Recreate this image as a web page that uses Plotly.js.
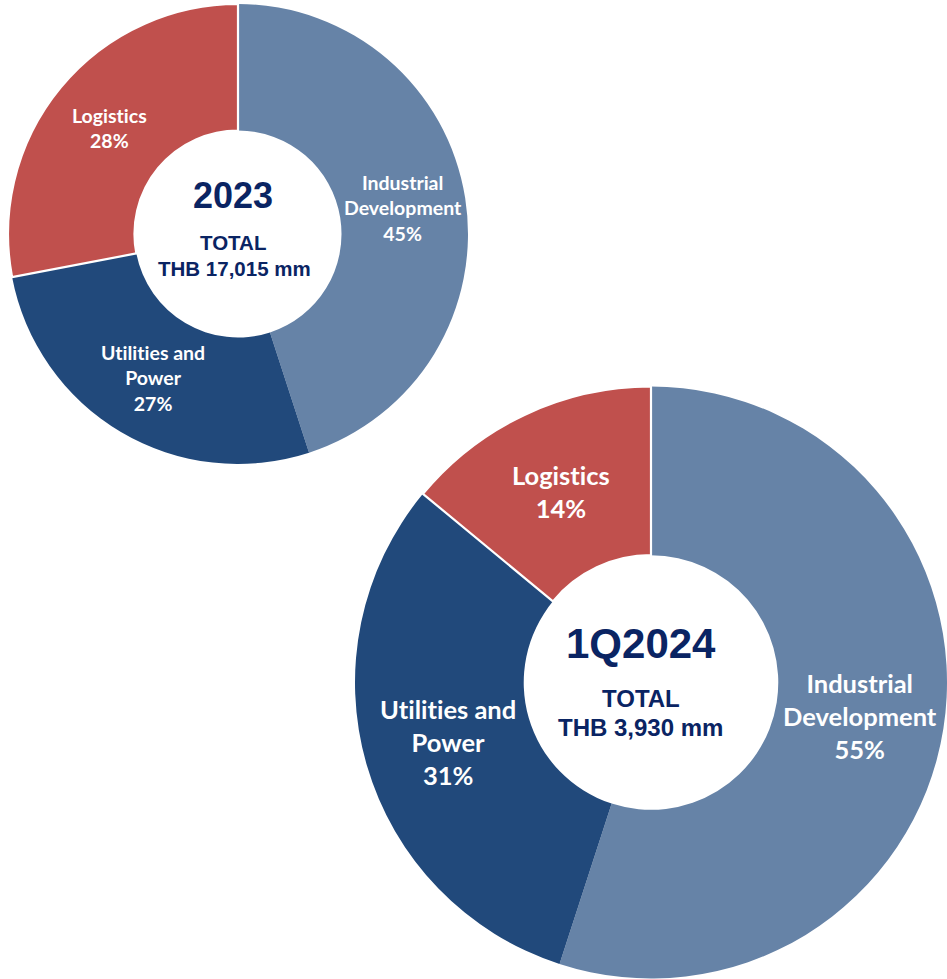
<!DOCTYPE html>
<html>
<head>
<meta charset="utf-8">
<script src="https://cdn.plot.ly/plotly-3.0.1.min.js"></script>
<style>
html,body{margin:0;padding:0;background:#fff;}
#chart{width:947px;height:979px;}
svg text{font-variant-ligatures:none;font-feature-settings:"liga" 0,"clig" 0;}
</style>
</head>
<body>
<div id="chart"></div>
<script>
const categories = ["Industrial<br>Development", "Utilities and<br>Power", "Logistics"];
const values2023 = [45, 27, 28];
const values1Q2024 = [55, 31, 14];
const title2023 = "2023";
const total2023 = "THB 17,015 mm";
const title1Q2024 = "1Q2024";
const total1Q2024 = "THB 3,930 mm";
const colors = ["#6683a7", "#21497b", "#c0504d"];
const navy = "#0a2463";

const W = 947, H = 979;

function pieTrace(values, domain, hole) {
  return {
    type: "pie",
    values: values,
    labels: categories,
    textinfo: "none",
    sort: false,
    direction: "clockwise",
    rotation: 0,
    hole: hole,
    domain: domain,
    marker: { colors: colors, line: { color: "#ffffff", width: [0, 0, 2.2] } },
    hoverinfo: "none",
    showlegend: false
  };
}

// Slice labels placed at the middle of the ring, along each slice's bisector (computed from values)
function sliceLabels(values, domain, hole, fontSize) {
  const x0 = domain.x[0] * W, x1 = domain.x[1] * W;
  const y0 = (1 - domain.y[1]) * H, y1 = (1 - domain.y[0]) * H;
  const cx = (x0 + x1) / 2, cy = (y0 + y1) / 2;
  const R = Math.min(x1 - x0, y1 - y0) / 2;
  const rMid = R * (1 + hole) / 2;
  const total = values.reduce((a, b) => a + b, 0);
  let cum = 0;
  return values.map((v, i) => {
    const mid = (cum + v / 2) / total * 2 * Math.PI;
    cum += v;
    const px = cx + rMid * Math.sin(mid);
    const py = cy - rMid * Math.cos(mid);
    return {
      text: "<b>" + categories[i] + "<br>" + v + "%</b>",
      x: px / W, y: 1 - py / H, xref: "paper", yref: "paper",
      showarrow: false, xanchor: "center", yanchor: "middle", align: "center",
      font: { family: "Lato", size: fontSize, color: "#ffffff" }
    };
  });
}

function ann(text, x, y, size) {
  return { text: "<b>" + text + "</b>", x: x / W, y: 1 - y / H, xref: "paper", yref: "paper",
    showarrow: false, xanchor: "center", yanchor: "middle",
    font: { family: "Liberation Sans, Arial", size: size, color: navy } };
}

const dom2023 = { x: [8 / W, 468 / W], y: [1 - 464 / H, 1 - 4 / H] };
const dom1Q = { x: [355 / W, 1], y: [0, 1 - 386 / H] };
const hole2023 = 0.45, hole1Q = 0.43;

const data = [
  pieTrace(values2023, dom2023, hole2023),
  pieTrace(values1Q2024, dom1Q, hole1Q)
];

const layout = {
  width: W, height: H,
  margin: { l: 0, r: 0, t: 0, b: 0 },
  paper_bgcolor: "#ffffff",
  showlegend: false,
  annotations: [
    ...sliceLabels(values2023, dom2023, hole2023, 19.5),
    ...sliceLabels(values1Q2024, dom1Q, hole1Q, 25.5),
    ann(title2023, 233, 195, 36),
    ann("TOTAL", 233, 243, 20.5),
    ann(total2023, 234, 268, 20.5),
    ann(title1Q2024, 641, 643, 42),
    ann("TOTAL", 641, 698, 24),
    ann(total1Q2024, 640, 727, 24)
  ]
};

Plotly.newPlot("chart", data, layout, { displayModeBar: false, staticPlot: true });
</script>
</body>
</html>
